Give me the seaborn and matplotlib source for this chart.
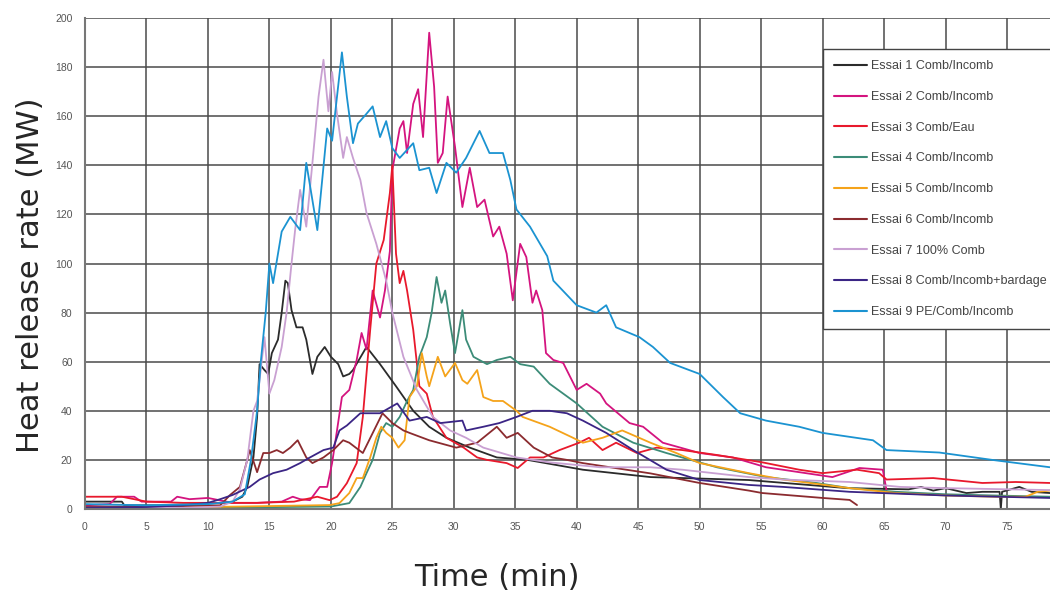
import numpy as np
import pandas as pd
import matplotlib
matplotlib.use("Agg")
import matplotlib.pyplot as plt
from matplotlib.ticker import MultipleLocator
import seaborn as sns

# values (time in min, HRR in MW)
t1 = [0, 3, 3.2, 6, 9, 11, 12, 12.8, 13.2, 13.7, 14, 14.2, 14.6, 14.9, 15.2, 15.7, 16, 16.3, 16.5, 16.8,
      17.2, 17.7, 18, 18.5, 18.9, 19.5, 20, 20.6, 21, 21.5, 21.8, 22.9, 24, 25.3, 26.7, 28, 29.4, 31.3,
      33.5, 36, 40.5, 46, 54, 62, 67, 68, 69, 70, 71.7, 73, 74.4, 74.5, 74.6, 76, 77, 78.5]
v1 = [3, 3, 1.5, 1.5, 2, 2.5, 3, 5, 9, 21, 37.5, 59, 56.6, 55, 63.5, 69, 80, 93, 92, 81,
      74, 74, 69, 55, 62, 66, 62, 59, 54, 55, 56.6, 66, 59, 50, 40, 33.5, 29, 25,
      21, 20, 16, 13, 11.8, 8.5, 8, 9, 7.5, 8.5, 6.5, 7, 7, 0, 7, 9, 7, 6.5]

t2 = [0, 2, 2.6, 4, 4.6, 7, 7.5, 8.5, 10, 11, 12, 14, 16, 16.9, 17.5, 18.3, 19.1, 19.7, 20.1, 20.5,
      20.9, 21.5, 22.1, 22.5, 22.9, 23.4, 24, 24.4, 24.8, 25, 25.6, 25.9, 26.2, 26.7, 27.1, 27.5, 28,
      28.4, 28.7, 29.1, 29.5, 30.1, 30.7, 31.3, 31.9, 32.5, 33.2, 33.7, 34.3, 34.8, 35.4, 35.9, 36.4,
      36.7, 37.2, 37.5, 38.1, 38.9, 40, 40.8, 41.9, 42.4, 44.3, 45.4, 47, 50, 52.7, 55.4, 60.8, 63,
      64.9, 65.2]
v2 = [1.5, 2, 5, 5, 3, 3, 5, 4, 4.5, 3.5, 2.5, 2.5, 3, 5, 4, 3.6, 9, 9, 18.7, 32,
      45.6, 48.5, 60.7, 71.7, 65, 89, 78, 89, 105, 138, 155, 158, 145, 165, 171, 151.5, 194,
      172, 141, 145, 168, 147.5, 123, 139, 123, 126, 111, 115, 104, 85, 108, 102.6, 84,
      89, 81, 63.5, 60.7, 59.5, 48.5, 51, 47, 43, 35, 33.5, 27, 22.8, 21, 17, 13, 16.7,
      16, 7.7]

t3 = [0, 3, 4, 5, 8, 11, 14, 17, 18.9, 19.9, 20.5, 21.3, 22.1, 22.6, 23.2, 23.7, 24.3, 24.8, 25,
      25.3, 25.5, 25.6, 25.9, 26.2, 26.7, 27.2, 27.8, 28.3, 29.4, 30.8, 31.9, 32.7, 34.3, 35.2, 36.2,
      37.3, 38.6, 40.2, 41, 42.1, 43.2, 44.9, 46.5, 48.6, 51.4, 55.1, 58.1, 60, 62.8, 64.6, 65.2, 69,
      73, 75.7, 78.5]
v3 = [5, 5, 4, 3, 2.5, 2.5, 2.5, 3, 5, 3.6, 5, 10.5, 18.7, 37.5, 73, 100, 109.6, 128.7, 140,
      104, 96, 92, 97, 89, 73, 50, 47, 37.5, 29, 25, 21, 20, 18.7, 16.7, 21,
      21, 24, 27, 29, 24, 27, 22.8, 25, 24, 22, 19, 16, 14.6, 16, 14.6, 12, 12.6,
      10.6, 11, 10.6]

t4 = [0, 10, 20, 21.5, 22.4, 22.9, 23.4, 24, 24.5, 25, 25.6, 26.2, 26.7, 27.2, 27.8, 28.2, 28.6, 29,
      29.3, 29.7, 30.1, 30.7, 31, 31.6, 32.7, 33.5, 34.6, 35.4, 36.5, 37.8, 40, 42.1, 44.6, 47.3, 51.4,
      55.4, 59.5, 62.2, 66, 70, 74, 78.5]
v4 = [0.5, 0.5, 1, 2.4, 9, 14.6, 20, 31, 35, 33.5, 37.5, 44, 48.5, 62, 70, 80, 94.5, 84,
      89, 75.6, 63.5, 81, 69, 62, 59, 60.7, 62, 59, 58, 51, 43, 33.5, 27, 22.8, 17,
      13, 10.6, 8.5, 7, 6, 5.5, 5]

t5 = [0, 10, 15, 19.9, 20.7, 21.5, 22.1, 22.6, 23.2, 23.7, 24.1, 24.5, 25, 25.5, 26, 26.4, 27, 27.4,
      27.8, 28, 28.7, 29.3, 30.1, 30.7, 31.1, 31.9, 32.4, 33.2, 34, 35.1, 35.6, 37.8, 39.7, 40.5, 42.1,
      43.7, 46, 48.1, 50, 54, 56.8, 62.2, 66, 70, 74, 76.5, 77.5, 78.5]
v5 = [0.5, 0.8, 1.2, 1.6, 2.4, 6.5, 12.6, 12.6, 21, 29, 33.5, 31, 29, 25, 28, 45.6, 50, 63.5,
      54, 50, 62, 54, 59.5, 52.5, 51, 56.6, 45.6, 44, 44, 40, 37.5, 33.5, 29, 27, 29,
      32, 27, 22.8, 18.7, 14.6, 12, 8.5, 6.5, 5.5, 5, 5, 7, 7.5]

t6 = [0, 6, 11, 11.8, 12.6, 13.2, 13.4, 14, 14.5, 15, 15.6, 16.1, 16.7, 17.3, 18, 18.5, 19.4, 20.2,
      21, 21.5, 22.6, 24.2, 25, 25.9, 26.4, 28, 30.2, 31.9, 33.5, 34.3, 35.2, 36.5, 38, 39.2, 40.5,
      46, 50, 54, 55.1, 60, 62.2, 62.8]
v6 = [1, 1, 1.5, 5.7, 9, 20, 24, 15, 22.8, 22.8, 24, 22.8, 25, 28, 21, 18.7, 21, 24,
      28, 27, 22.8, 39, 35, 32, 31, 28, 25, 27, 33.5, 29, 31, 25, 21, 20, 18.7,
      14.5, 10.6, 7.5, 6.5, 4.5, 3.7, 1.6]

t7 = [0, 8, 11, 12, 12.6, 13.2, 13.7, 14, 14.6, 15, 15.4, 16, 16.4, 16.8, 17.1, 17.5, 18, 18.5, 19,
      19.4, 19.8, 20.1, 20.5, 21, 21.3, 21.8, 22.4, 22.9, 23.7, 24.5, 25, 25.9, 27, 28.3, 29.7, 31,
      32.4, 35.1, 37.8, 41.9, 46, 48.6, 54, 56.8, 62.2, 66.3, 70, 78.5]
v7 = [0.5, 0.5, 1, 3, 8, 20, 40, 44, 70, 47, 52.5, 66, 80, 100, 114, 130, 115, 141, 168,
      183, 162, 178, 161, 143, 151.5, 143, 134, 120.6, 108, 93, 80, 62, 48.5, 37.5, 32, 29,
      25, 21, 19, 17, 17, 16, 13, 12, 11, 9, 8.5, 7.7]

t8 = [0, 5, 8, 10, 11, 12, 13.4, 14.2, 15.3, 16.4, 17.5, 18.3, 19.4, 20.2, 20.7, 21.3, 22.4, 24,
      25.4, 26.4, 27.8, 28.9, 30.7, 31, 32.4, 33.7, 35.1, 36.4, 37.8, 39.2, 40.5, 42.4, 44.6, 47.3,
      50, 54, 56.8, 62.2, 70, 78.5]
v8 = [0.5, 0.8, 1.5, 2.5, 4, 5.7, 9, 12, 14.6, 16, 18.7, 21, 24, 25, 32, 34, 39, 39,
      43, 36, 37.5, 35, 36, 32, 33.5, 35, 37.5, 40, 40, 39, 36, 31, 24, 16,
      11.8, 9.8, 9, 7, 5.5, 4.5]

t9 = [0, 5, 10, 12, 13, 13.5, 14, 14.3, 14.7, 15, 15.3, 16, 16.7, 17.5, 18, 18.9, 19.7, 20.1, 20.5,
      20.9, 21.3, 21.8, 22.2, 22.9, 23.4, 24, 24.5, 25, 25.6, 26.7, 27.2, 28, 28.6, 29.4, 30.2, 31,
      32.1, 32.9, 34, 34.6, 35.1, 36.2, 37.6, 38.1, 40, 41.6, 42.4, 43.2, 45.1, 46.2, 47.6, 50, 51.9,
      53.3, 55.4, 58.1, 60, 64.1, 65.2, 69.5, 73.8, 78.5]
v9 = [2, 1.5, 2, 3, 6, 20, 40, 60, 80, 100, 92, 113, 119, 113.6, 141, 113.6, 155, 150, 168,
      186, 168, 149, 157, 161, 164, 151.5, 158, 147, 143, 149, 138, 139, 128.7, 141, 137, 143,
      154, 145, 145, 134, 122, 115, 103, 93, 83, 80, 83, 74, 70, 66, 59.5, 55, 45.6,
      39, 36, 33.5, 31, 28, 24, 23, 20, 17]

labels = ["Essai 1 Comb/Incomb", "Essai 2 Comb/Incomb", "Essai 3 Comb/Eau",
          "Essai 4 Comb/Incomb", "Essai 5 Comb/Incomb", "Essai 6 Comb/Incomb",
          "Essai 7 100% Comb", "Essai 8 Comb/Incomb+bardage", "Essai 9 PE/Comb/Incomb"]
colors = ["#2b2b2b", "#d4147f", "#e8192c", "#3c8c78", "#f5a31a",
          "#8b2b2f", "#c9a0d2", "#3b2585", "#1b93d1"]

series = [(t1, v1), (t2, v2), (t3, v3), (t4, v4), (t5, v5),
          (t6, v6), (t7, v7), (t8, v8), (t9, v9)]
frames = []
for lab, (t, v) in zip(labels, series):
    frames.append(pd.DataFrame({"time": t, "hrr": v, "essai": lab}))
df = pd.concat(frames, ignore_index=True)

sns.set_style("white")
plt.rcParams['font.family'] = ['Liberation Sans', 'DejaVu Sans']

fig = plt.figure(figsize=(10.5, 5.94), dpi=100)
ax = fig.add_axes([85 / 1050, 85 / 594, 965 / 1050, 491 / 594])

sns.lineplot(data=df, x="time", y="hrr", hue="essai", hue_order=labels,
             palette=dict(zip(labels, colors)), estimator=None, sort=False,
             linewidth=1.3, ax=ax, legend=False)

ax.set_xlim(0, 78.5)
ax.set_ylim(0, 200)
ax.xaxis.set_major_locator(MultipleLocator(5))
ax.xaxis.set_minor_locator(MultipleLocator(1))
ax.yaxis.set_major_locator(MultipleLocator(20))
ax.yaxis.set_minor_locator(MultipleLocator(4))
ax.grid(True, which="major", color="#4a4a4a", linewidth=1.1)
ax.set_axisbelow(True)
ax.tick_params(which="major", direction="inout", length=8, width=1, color="#666666",
               labelsize=7.5, labelcolor="#555555", pad=5)
ax.tick_params(which="minor", direction="inout", length=6, width=0.8, color="#666666")
for side in ["left", "bottom"]:
    ax.spines[side].set_color("#777777")
    ax.spines[side].set_linewidth(1.5)
for side in ["top", "right"]:
    ax.spines[side].set_visible(False)
ax.set_xlabel("")
ax.set_ylabel("")

handles = [plt.Line2D([], [], color=c, lw=1.5) for c in colors]
leg = ax.legend(handles, labels, loc="upper left", bbox_to_anchor=(0.765, 0.937),
                borderaxespad=0, fontsize=9, labelspacing=1.5, handlelength=2.6,
                handletextpad=0.3, borderpad=0.9, fancybox=False, framealpha=1,
                edgecolor="#444444")
leg.get_frame().set_linewidth(1.0)
for txt in leg.get_texts():
    txt.set_color("#444444")

fig.text(31 / 1050, 1 - 275 / 594, "Heat release rate (MW)", rotation=90,
         ha="center", va="center", fontsize=22, family="DejaVu Sans")
fig.text(497 / 1050, 16 / 594, "Time (min)", ha="center", va="center",
         fontsize=22, family="DejaVu Sans")

fig.savefig("out.png", dpi=100)
